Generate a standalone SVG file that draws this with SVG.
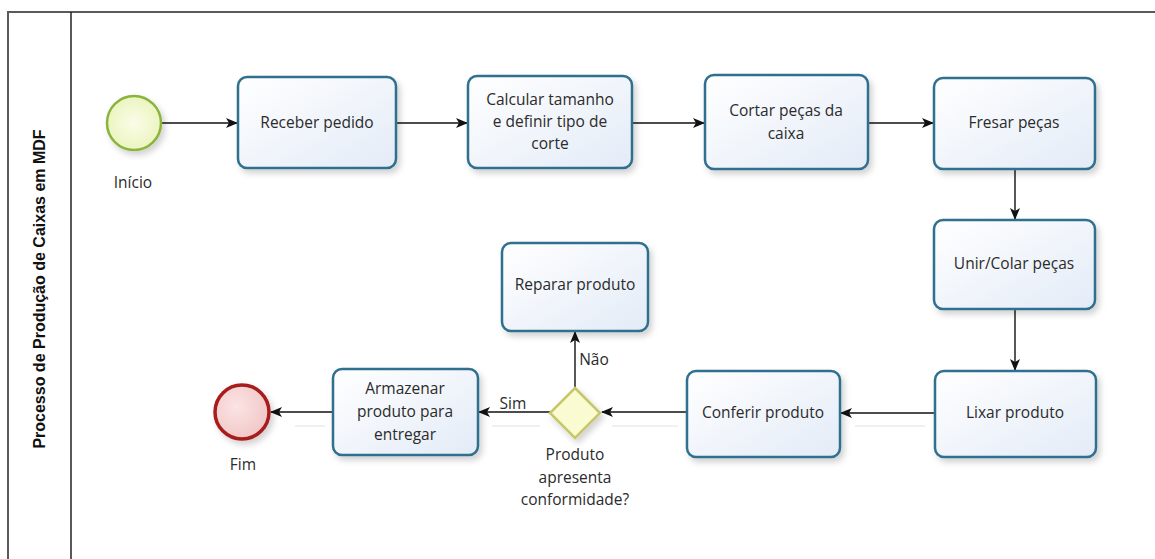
<svg xmlns="http://www.w3.org/2000/svg" width="1155" height="559" viewBox="0 0 1155 559">
<style>
.task rect{fill:url(#taskGrad);stroke:#2e6f8e;stroke-width:2.5;filter:url(#shadow)}
.t{font-family:"Open Sans","Noto Sans","Liberation Sans",sans-serif;font-size:15.5px;fill:#2b2b2b;text-anchor:middle}
.c{fill:none;stroke:#111;stroke-width:1.4;marker-end:url(#arrow)}
.ghost{fill:none;stroke:#ececec;stroke-width:1.5}
</style>
<defs>
<linearGradient id="taskGrad" x1="0" y1="0" x2="1" y2="1">
<stop offset="0" stop-color="#ffffff"/>
<stop offset="1" stop-color="#e3ebf7"/>
</linearGradient>
<radialGradient id="startGrad" cx="0.5" cy="0.5" r="0.6">
<stop offset="0" stop-color="#fbfde8"/>
<stop offset="1" stop-color="#e8f3b8"/>
</radialGradient>
<radialGradient id="endGrad" cx="0.4" cy="0.4" r="0.7">
<stop offset="0" stop-color="#fbe4e4"/>
<stop offset="1" stop-color="#f0c4c4"/>
</radialGradient>
<filter id="shadow" x="-10%" y="-10%" width="130%" height="130%">
<feDropShadow dx="3" dy="4" stdDeviation="3" flood-color="#000" flood-opacity="0.18"/>
</filter>
<marker id="arrow" viewBox="0 0 12 12" refX="11" refY="6" markerWidth="12" markerHeight="12" markerUnits="userSpaceOnUse" orient="auto">
<path d="M0,1 L12,6 L0,11 L3,6 Z" fill="#111"/>
</marker>
</defs>
<rect width="1155" height="559" fill="#fff"/>
<g id="pool">
<path d="M8,560 L8,12 L1156,12" fill="none" stroke="#5a5a5a" stroke-width="2"/>
<line x1="71" y1="12" x2="71" y2="560" stroke="#222" stroke-width="1.5"/>
<text transform="translate(45,289) rotate(-90)" font-family="Liberation Sans,Arial,sans-serif" font-size="16" font-weight="bold" fill="#111" text-anchor="middle">Processo de Produção de Caixas em MDF</text>
</g>
<g id="connectors">
<path class="ghost" d="M855,426 L925,426 M612,426 L678,426 M295,426 L325,426 M492,426 L540,426"/>
<path class="c" d="M161,123 L237,123"/>
<path class="c" d="M396,123 L467,123"/>
<path class="c" d="M632,123 L704,123"/>
<path class="c" d="M868,123 L933,123"/>
<path class="c" d="M1015,169 L1015,219"/>
<path class="c" d="M1015,309 L1015,370"/>
<path class="c" d="M934,413 L841,413"/>
<path class="c" d="M687,412 L602,412"/>
<path class="c" d="M550,412 L479,412"/>
<path class="c" d="M575,388 L575,332"/>
<path class="c" d="M333,412 L271,412"/>
<text class="t" x="513" y="409">Sim</text>
<text class="t" x="594" y="365">Não</text>
</g>
<g id="start">
<circle cx="134" cy="123" r="27" fill="url(#startGrad)" stroke="#8cb43c" stroke-width="2.5" filter="url(#shadow)"/>
<text class="t" x="133" y="188">Início</text>
</g>
<g id="receber" class="task">
<rect x="238" y="77" width="158" height="91" rx="9"/>
<text class="t" x="317" y="128">Receber pedido</text>
</g>
<g id="calcular" class="task">
<rect x="468" y="76" width="164" height="92" rx="9"/>
<text class="t" x="550" y="105">Calcular tamanho</text>
<text class="t" x="550" y="127">e definir tipo de</text>
<text class="t" x="550" y="149">corte</text>
</g>
<g id="cortar" class="task">
<rect x="705" y="75" width="163" height="94" rx="9"/>
<text class="t" x="786" y="116">Cortar peças da</text>
<text class="t" x="786" y="139">caixa</text>
</g>
<g id="fresar" class="task">
<rect x="934" y="78" width="161" height="91" rx="9"/>
<text class="t" x="1014" y="128">Fresar peças</text>
</g>
<g id="unir" class="task">
<rect x="934" y="220" width="161" height="89" rx="9"/>
<text class="t" x="1014" y="269">Unir/Colar peças</text>
</g>
<g id="lixar" class="task">
<rect x="935" y="371" width="161" height="86" rx="9"/>
<text class="t" x="1015" y="418">Lixar produto</text>
</g>
<g id="conferir" class="task">
<rect x="687" y="371" width="153" height="86" rx="9"/>
<text class="t" x="763" y="418">Conferir produto</text>
</g>
<g id="gateway">
<polygon points="575,388 600,413 575,438 550,413" fill="#fbfbd2" stroke="#c6c66a" stroke-width="2.5" filter="url(#shadow)"/>
<text class="t" x="575" y="460">Produto</text>
<text class="t" x="575" y="483">apresenta</text>
<text class="t" x="575" y="505">conformidade?</text>
</g>
<g id="reparar" class="task">
<rect x="502" y="243" width="146" height="88" rx="9"/>
<text class="t" x="575" y="290">Reparar produto</text>
</g>
<g id="armazenar" class="task">
<rect x="333" y="369" width="145" height="86" rx="9"/>
<text class="t" x="405" y="394">Armazenar</text>
<text class="t" x="405" y="417">produto para</text>
<text class="t" x="405" y="440">entregar</text>
</g>
<g id="fim">
<circle cx="242" cy="412" r="27" fill="url(#endGrad)" stroke="#a81c1c" stroke-width="3.5" filter="url(#shadow)"/>
<text class="t" x="243" y="470">Fim</text>
</g>
</svg>
